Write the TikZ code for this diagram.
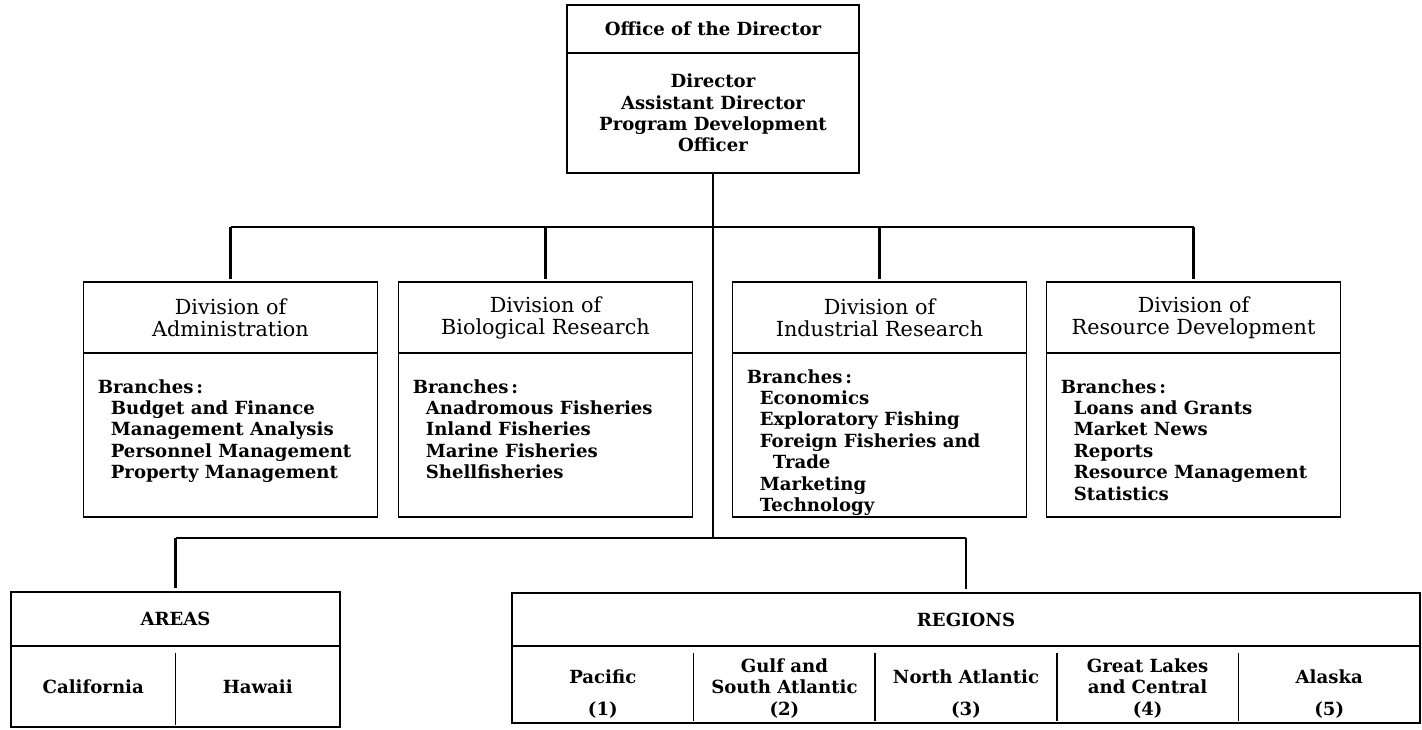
\documentclass[tikz,border=0pt]{standalone}
\usepackage{fontspec}
\setmainfont{DejaVu Serif}
\usetikzlibrary{positioning,calc}
\newcommand{\orgfont}{\fontsize{10.3}{12.2}\selectfont}
\newcommand{\headfont}{\fontsize{11.8}{12.5}\selectfont}
\newcommand{\brind}{\hspace*{2.6mm}}

\begin{document}
\begin{tikzpicture}[
  font=\orgfont\bfseries,
  box/.style={draw, line width=0.9pt, outer sep=0pt, inner sep=0pt, align=center},
  head/.style={box, minimum width=58.8mm, minimum height=14.2mm, font=\headfont\mdseries},
  body/.style={box, minimum width=58.8mm, minimum height=32.8mm},
  list/.style={anchor=north west, align=left, inner sep=0pt},
  cell/.style={outer sep=0pt, inner sep=0pt, align=center},
  regcell/.style={cell, minimum width=36.32mm, minimum height=12.2mm},
  num/.style={inner sep=0pt},
  link/.style={line width=1.6pt},
  split/.style={line width=0.9pt, shorten <=1.3mm, shorten >=0.5mm}]
\useasboundingbox (0,0) rectangle (284.4mm,-145.8mm);
% director
\node[box, anchor=north, minimum width=58.4mm, minimum height=9.6mm] (dirhead) at (142.6mm,-1mm) {Office of the Director};
\node[box, below=0pt of dirhead, minimum width=58.4mm, minimum height=24mm] (dirbody) {Director\\Assistant Director\\Program Development\\Officer};
% divisions
\node[head, anchor=north] (admhead) at (46.1mm,-56.4mm) {Division of\\Administration};
\node[head, right=4.2mm of admhead] (biohead) {Division of\\Biological Research};
\node[head, right=8mm of biohead] (indhead) {Division of\\Industrial Research};
\node[head, right=4mm of indhead] (reshead) {Division of\\Resource Development};
\node[body, below=0pt of admhead] (admbody) {};
\node[body, below=0pt of biohead] (biobody) {};
\node[body, below=0pt of indhead] (indbody) {};
\node[body, below=0pt of reshead] (resbody) {};
\node[list] (admlist) at ([shift={(2.8mm,-5.2mm)}]admbody.north west) {Branches\,:\\\brind Budget and Finance\\\brind Management Analysis\\\brind Personnel Management\\\brind Property Management};
\node[list] (biolist) at ([shift={(2.8mm,-5.2mm)}]biobody.north west) {Branches\,:\\\brind Anadromous Fisheries\\\brind Inland Fisheries\\\brind Marine Fisheries\\\brind Shellfisheries};
\node[list] (indlist) at ([shift={(2.8mm,-3.2mm)}]indbody.north west) {Branches\,:\\\brind Economics\\\brind Exploratory Fishing\\\brind Foreign Fisheries and\\\brind\brind Trade\\\brind Marketing\\\brind Technology};
\node[list] (reslist) at ([shift={(2.8mm,-5.2mm)}]resbody.north west) {Branches\,:\\\brind Loans and Grants\\\brind Market News\\\brind Reports\\\brind Resource Management\\\brind Statistics};
% areas
\node[box, anchor=north, minimum width=65.8mm, minimum height=10.8mm] (areahead) at (35.1mm,-118.4mm) {AREAS};
\node[box, below=0pt of areahead, minimum width=65.8mm, minimum height=16.2mm] (areabody) {};
\node[cell, anchor=north west, minimum width=32.9mm, minimum height=16.2mm] (cal) at (areabody.north west) {California};
\node[cell, right=0pt of cal, minimum width=32.9mm, minimum height=16.2mm] (haw) {Hawaii};
\draw[split] (cal.north east) -- (cal.south east);
% regions
\node[box, anchor=north, minimum width=181.6mm, minimum height=10.6mm] (reghead) at (193.2mm,-118.6mm) {REGIONS};
\node[box, below=0pt of reghead, minimum width=181.6mm, minimum height=15.4mm] (regbody) {};
\node[regcell, anchor=north west] (pac) at (regbody.north west) {Pacific};
\node[regcell, right=0pt of pac] (gulf) {Gulf and\\South Atlantic};
\node[regcell, right=0pt of gulf] (natl) {North Atlantic};
\node[regcell, right=0pt of natl] (glak) {Great Lakes\\and Central};
\node[regcell, right=0pt of glak] (alas) {Alaska};
\node[num, below=-1.2mm of pac] (pacno) {(1)};
\node[num, below=-1.2mm of gulf] (gulfno) {(2)};
\node[num, below=-1.2mm of natl] (natlno) {(3)};
\node[num, below=-1.2mm of glak] (glakno) {(4)};
\node[num, below=-1.2mm of alas] (alasno) {(5)};
\draw[split] (pac.north east) -- (pac.north east |- regbody.south);
\draw[split] (gulf.north east) -- (gulf.north east |- regbody.south);
\draw[split] (natl.north east) -- (natl.north east |- regbody.south);
\draw[split] (glak.north east) -- (glak.north east |- regbody.south);
% connectors
\coordinate (upbus) at (0,-45.4mm);
\coordinate (lowbus) at (0,-107.6mm);
\draw[link] (dirbody.south) -- (dirbody.south |- lowbus);
\draw[link] (admhead.north |- upbus) -- (reshead.north |- upbus);
\draw[link, shorten >=0.6mm] (admhead.north |- upbus) -- (admhead.north);
\draw[link, shorten >=0.6mm] (biohead.north |- upbus) -- (biohead.north);
\draw[link, shorten >=0.6mm] (indhead.north |- upbus) -- (indhead.north);
\draw[link, shorten >=0.6mm] (reshead.north |- upbus) -- (reshead.north);
\draw[link] (areahead.north |- lowbus) -- (reghead.north |- lowbus);
\draw[link, shorten >=0.9mm] (areahead.north |- lowbus) -- (areahead.north);
\draw[link, shorten >=0.9mm] (reghead.north |- lowbus) -- (reghead.north);
\end{tikzpicture}
\end{document}
